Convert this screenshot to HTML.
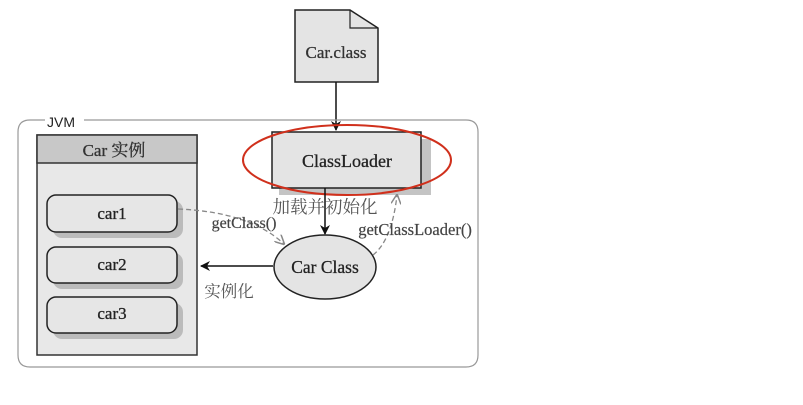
<!DOCTYPE html>
<html><head><meta charset="utf-8"><style>
body{margin:0;background:#fff;}
svg{display:block;font-family:"Liberation Serif","Noto Serif CJK SC",serif;}
</style></head><body>
<svg width="803" height="405" viewBox="0 0 803 405">
<defs>
<marker id="a" markerWidth="10" markerHeight="10" refX="9" refY="5" orient="auto" markerUnits="userSpaceOnUse"><path d="M0,0 L10,5 L0,10 L3,5 Z" fill="#111"/></marker>
<marker id="g" markerWidth="10" markerHeight="10" refX="9" refY="5" orient="auto" markerUnits="userSpaceOnUse"><path d="M0,0 L10,5 L0,10" fill="none" stroke="#888" stroke-width="1.5"/></marker>
</defs>
<path d="M295,10 H350 L378,28 V82 H295 Z" fill="#e4e4e4" stroke="#222" stroke-width="1.5"/>
<path d="M350,10 V28 H378" fill="none" stroke="#222" stroke-width="1.2"/>
<text x="336" y="58" font-size="17" text-anchor="middle" fill="#333" stroke="#333" stroke-width="0.3">Car.class</text>
<line x1="336" y1="82" x2="336" y2="130" stroke="#111" stroke-width="1.5" marker-end="url(#a)"/>
<path d="M45,120 H30 Q18,120 18,132 V355 Q18,367 30,367 H466 Q478,367 478,355 V132 Q478,120 466,120 H84" fill="none" stroke="#999" stroke-width="1.2"/>
<text x="47" y="127" font-family="Liberation Sans,sans-serif" font-size="14" fill="#222">JVM</text>
<rect x="37" y="135" width="160" height="220" fill="#e8e8e8" stroke="#333" stroke-width="1.5"/>
<rect x="37" y="135" width="160" height="28" fill="#c8c8c8" stroke="#333" stroke-width="1.5"/>
<text x="114" y="156" font-size="17" text-anchor="middle" fill="#333" stroke="#333" stroke-width="0.3">Car 实例</text>
<g font-size="17" text-anchor="middle" fill="#222" stroke="#222" stroke-width="0.3">
<rect x="53" y="201" width="130" height="37" rx="9" fill="#bbb" stroke="none"/>
<rect x="47" y="195" width="130" height="37" rx="9" fill="#e6e6e6" stroke="#222" stroke-width="1.5"/>
<text x="112" y="219">car1</text>
<rect x="53" y="253" width="130" height="36" rx="9" fill="#bbb" stroke="none"/>
<rect x="47" y="247" width="130" height="36" rx="9" fill="#e6e6e6" stroke="#222" stroke-width="1.5"/>
<text x="112" y="270">car2</text>
<rect x="53" y="303" width="130" height="36" rx="9" fill="#bbb" stroke="none"/>
<rect x="47" y="297" width="130" height="36" rx="9" fill="#e6e6e6" stroke="#222" stroke-width="1.5"/>
<text x="112" y="319">car3</text>
</g>
<rect x="279" y="139" width="152" height="56" fill="#c4c4c4"/>
<rect x="272" y="132" width="149" height="56" fill="#e4e4e4" stroke="#222" stroke-width="1.5"/>
<text x="347" y="167" font-size="18" text-anchor="middle" fill="#222" stroke="#222" stroke-width="0.3">ClassLoader</text>
<ellipse cx="347" cy="160" rx="104" ry="35" fill="none" stroke="#d0301c" stroke-width="2"/>
<line x1="325" y1="188" x2="325" y2="234" stroke="#111" stroke-width="1.5" marker-end="url(#a)"/>
<text x="325" y="213" font-size="17.5" text-anchor="middle" fill="#555">加载并初始化</text>
<ellipse cx="325" cy="267" rx="51" ry="32" fill="#e4e4e4" stroke="#222" stroke-width="1.5"/>
<text x="325" y="273" font-size="17.5" text-anchor="middle" fill="#222" stroke="#222" stroke-width="0.3">Car Class</text>
<line x1="273" y1="266" x2="201" y2="266" stroke="#111" stroke-width="1.5" marker-end="url(#a)"/>
<text x="229" y="297" font-size="16.5" text-anchor="middle" fill="#555">实例化</text>
<path d="M178,209 Q250,212 284,244" fill="none" stroke="#888" stroke-width="1.3" stroke-dasharray="5,3" marker-end="url(#g)"/>
<text x="244" y="228" font-size="16" text-anchor="middle" fill="#444" stroke="#444" stroke-width="0.2">getClass()</text>
<path d="M373,255 Q392,240 397,195" fill="none" stroke="#888" stroke-width="1.3" stroke-dasharray="5,3" marker-end="url(#g)"/>
<text x="415" y="235" font-size="16.5" text-anchor="middle" fill="#444" stroke="#444" stroke-width="0.2">getClassLoader()</text>
</svg>
</body></html>
